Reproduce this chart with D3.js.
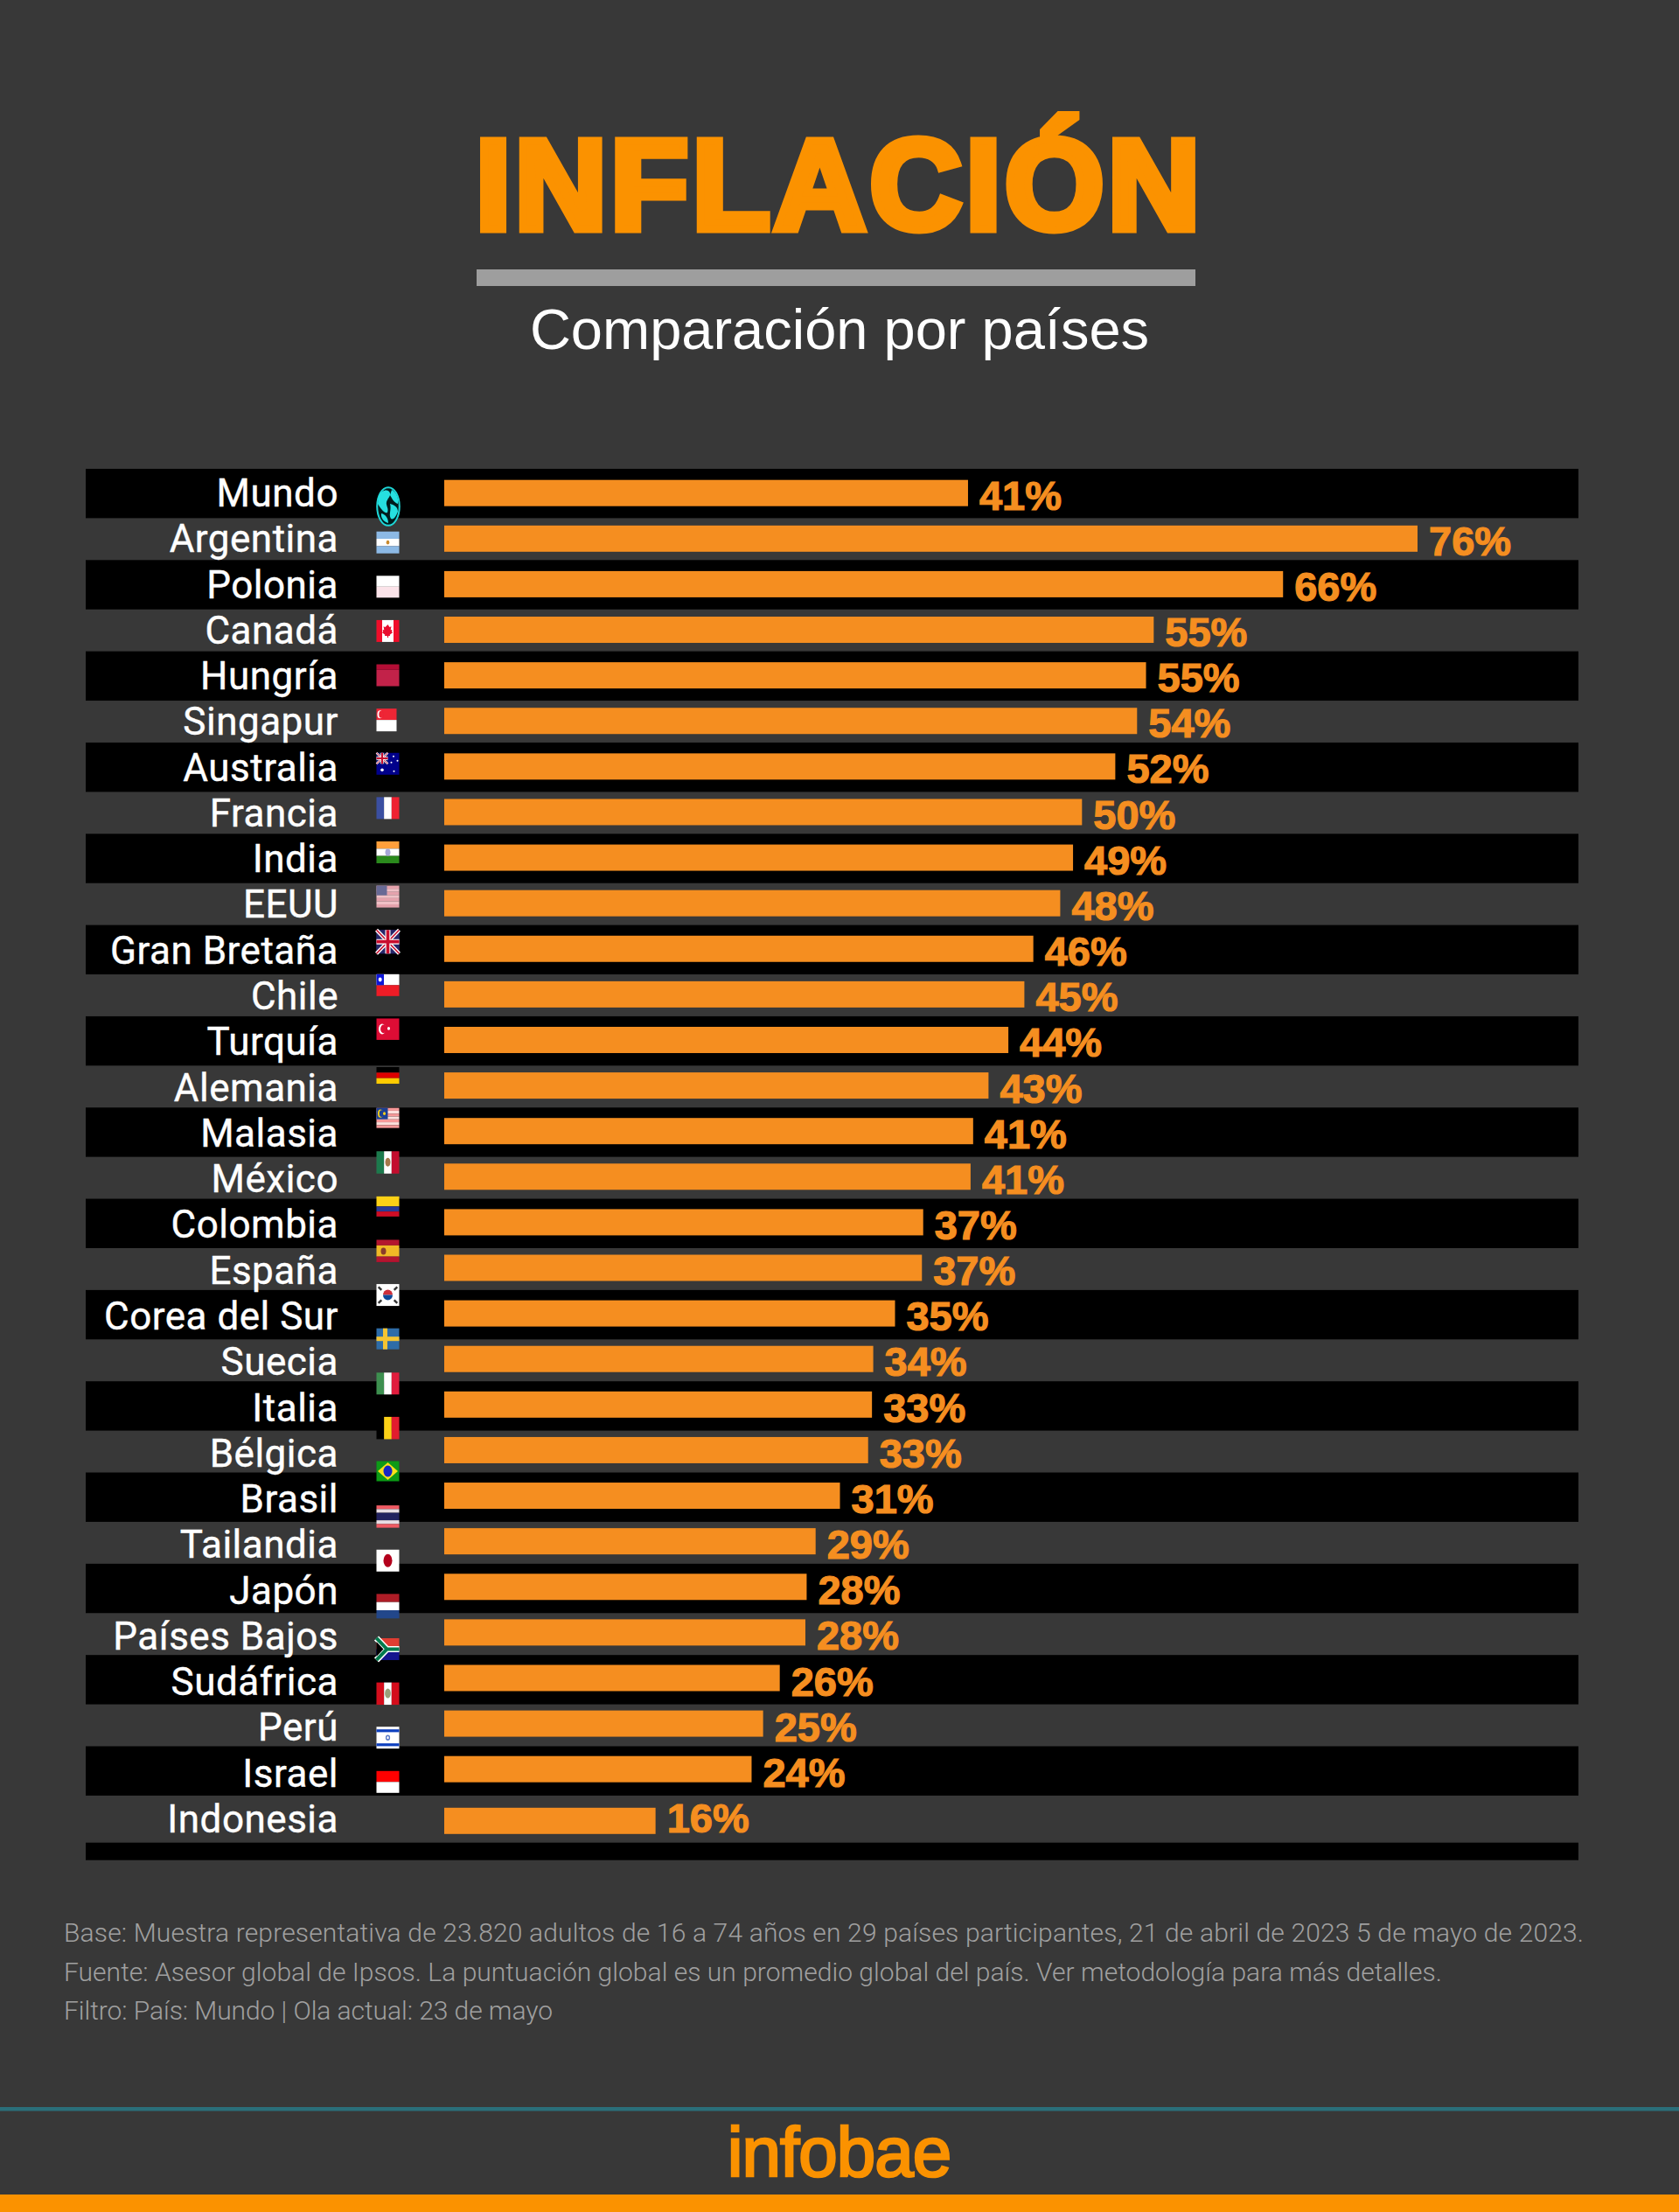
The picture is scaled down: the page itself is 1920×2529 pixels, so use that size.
<!DOCTYPE html>
<html lang="es">
<head>
<meta charset="utf-8">
<script src="https://d3js.org/d3.v7.min.js"></script>
<style>
html,body{margin:0;padding:0;background:#383838}
svg{display:block}
</style>
</head>
<body>
<svg id="chart" width="1920" height="2529"></svg>
<script>
const countries=["Mundo","Argentina","Polonia","Canadá","Hungría","Singapur","Australia","Francia","India","EEUU","Gran Bretaña","Chile","Turquía","Alemania","Malasia","México","Colombia","España","Corea del Sur","Suecia","Italia","Bélgica","Brasil","Tailandia","Japón","Países Bajos","Sudáfrica","Perú","Israel","Indonesia"];
const values=[40.9,76,65.5,55.4,54.8,54.1,52.4,49.8,49.1,48.1,46,45.3,44.05,42.5,41.3,41.1,37.4,37.3,35.2,33.5,33.4,33.1,30.9,29,28.3,28.2,26.2,24.9,24,16.5];
const valueLabels=["41%","76%","66%","55%","55%","54%","52%","50%","49%","48%","46%","45%","44%","43%","41%","41%","37%","37%","35%","34%","33%","33%","31%","29%","28%","28%","26%","25%","24%","16%"];
const titleText="INFLACIÓN";
const subtitleText="Comparación por países";
const notes=["Base: Muestra representativa de 23.820 adultos de 16 a 74 años en 29 países participantes, 21 de abril de 2023 5 de mayo de 2023.","Fuente: Asesor global de Ipsos. La puntuación global es un promedio global del país. Ver metodología para más detalles.","Filtro: País: Mundo | Ola actual: 23 de mayo"];
const logoText="infobae";

const svg=d3.select("#chart");
const ORANGE="#fb9200", BAR="#f58e20";
const FONT_LABEL="Roboto, sans-serif";
const n=countries.length;

svg.append("rect").attr("width",1920).attr("height",2529).attr("fill","#383838");

/* header */
svg.append("text").attr("x",960).attr("y",262).attr("text-anchor","middle")
  .attr("font-family","'Liberation Sans'").attr("font-weight",700).attr("font-size",146)
  .attr("letter-spacing",4.2).attr("fill",ORANGE).attr("stroke",ORANGE).attr("stroke-width",9)
  .attr("stroke-linejoin","miter").attr("stroke-miterlimit",2).text(titleText);
svg.append("rect").attr("x",545).attr("y",308).attr("width",822).attr("height",19).attr("fill","#9e9e9e");
svg.append("text").attr("x",960).attr("y",399).attr("text-anchor","middle")
  .attr("font-family","'Liberation Sans'").attr("font-size",65).attr("fill","#fff").text(subtitleText);

/* zebra */
const stripeIdx=d3.range(0,n,2);
const stripeY=d3.scaleLinear().domain([0,28]).range([536,1996.5]);
svg.append("g").selectAll("rect").data(stripeIdx).join("rect")
  .attr("x",98).attr("width",1707)
  .attr("y",d=>stripeY(d)).attr("height",56.4).attr("fill","#000");
svg.append("rect").attr("x",98).attr("width",1707).attr("y",2106.7).attr("height",20).attr("fill","#000");

/* scales */
const x=d3.scaleLinear().domain([0,76]).range([508,1621]);
const barC=d3.scaleLinear().domain([0,28]).range([563.7,2022.7]);
const barCenter=i=>barC(i)+(i===29?7:0);
const labelY=d3.scaleLinear().domain([0,29]).range([579,2095]);
const valueY=d3.scaleLinear().domain([0,29]).range([582.5,2095]);
const flagTop=d3.scaleLinear().domain([1,29]).range([607.7,2024.8]);

const rows=countries.map((c,i)=>({c,i,v:values[i],l:valueLabels[i]}));
svg.append("g").selectAll("rect").data(rows).join("rect")
  .attr("x",x(0)).attr("width",d=>x(d.v)-x(0))
  .attr("y",d=>barCenter(d.i)-15).attr("height",30).attr("fill",BAR);
svg.append("g").selectAll("text").data(rows).join("text")
  .attr("x",387).attr("y",d=>labelY(d.i)).attr("text-anchor","end")
  .attr("font-family",FONT_LABEL).attr("font-size",44).attr("letter-spacing",0.5)
  .attr("fill","#fff").attr("stroke","#fff").attr("stroke-width",0.4).text(d=>d.c);
svg.append("g").selectAll("text").data(rows).join("text")
  .attr("x",d=>x(d.v)+13).attr("y",d=>valueY(d.i))
  .attr("font-family","'Liberation Sans'").attr("font-weight",700).attr("font-size",47)
  .attr("fill",BAR).attr("stroke",BAR).attr("stroke-width",1.2).text(d=>d.l);

/* flags */
const defs=svg.append("defs");
defs.append("filter").attr("id","soft").attr("x","-10%").attr("y","-10%").attr("width","120%").attr("height","120%")
  .append("feGaussianBlur").attr("stdDeviation",0.45);
const W=26,H=25;
const R=(g,a,b,w,h,f)=>g.append("rect").attr("x",a).attr("y",b).attr("width",w).attr("height",h).attr("fill",f);
const E=(g,a,b,rx,ry,f)=>g.append("ellipse").attr("cx",a).attr("cy",b).attr("rx",rx).attr("ry",ry).attr("fill",f);
const P=(g,d,f)=>g.append("path").attr("d",d).attr("fill",f);
const L=(g,d,s,w)=>g.append("path").attr("d",d).attr("fill","none").attr("stroke",s).attr("stroke-width",w);
const unionJack=(g,w,h,sw)=>{
  R(g,0,0,w,h,"#27266b");
  L(g,`M0 0L${w} ${h}M${w} 0L0 ${h}`,"#fff",sw*0.9);
  L(g,`M0 0L${w} ${h}M${w} 0L0 ${h}`,"#c8102e",sw*0.35);
  L(g,`M${w/2} 0V${h}M0 ${h/2}H${w}`,"#fff",sw*1.3);
  L(g,`M${w/2} 0V${h}M0 ${h/2}H${w}`,"#c8102e",sw*0.8);
};
const flagSpecs={
  "Argentina":{s:"h",c:["#8cb9e5","#fff","#8cb9e5"],x:g=>E(g,13,12.5,1.8,2.4,"#c98a2e")},
  "Polonia":{s:"h",c:["#fff","#fbe3e9"]},
  "Canadá":{s:"v",c:["#f0102a","#fff","#f0102a"],wt:[1,2,1],x:g=>{P(g,"M13 5l2 3 2-.6-.8 4 1.8-.4-.6 2.4 1.4.8-3.6 2.6.4 1.4H13.6v2h-1.2v-2H9.4l.4-1.4-3.6-2.6 1.4-.8-.6-2.4 1.8.4-.8-4 2 .6z","#e8112d")}},
  "Hungría":{s:"h",c:["#b30f36","#c2214a"],wt:[1,3]},
  "Singapur":{w:23,h:26,s:"h",c:["#ee2536","#fff"],x:g=>{E(g,4,6.5,3,4.5,"#fff");E(g,5.4,6.5,2.6,4,"#ee2536")}},
  "Australia":{s:"h",c:["#00008b"],x:g=>{unionJack(g,13,12.5,2.6);[[6.5,19.5,1.8],[19.5,4,1],[24,9,1],[17,11,1],[20,21,1]].forEach(a=>E(g,a[0],a[1],a[2],a[2],"#fff"))}},
  "Francia":{s:"v",c:["#3a4fa1","#fff","#ee2033"]},
  "India":{s:"h",c:["#ff9f3a","#fff","#2c8a1f"],x:g=>E(g,13,12.5,3,4,"#a7a7d8")},
  "EEUU":{s:"h",c:["#e5a3ad","#f0c0c6","#e5a3ad","#f0c0c6","#e5a3ad","#f0c0c6","#e5a3ad"],x:g=>R(g,0,0,12,11,"#686b95")},
  "Gran Bretaña":{h:27,s:"h",c:["#27266b"],x:g=>unionJack(g,W,27,4.6)},
  "Chile":{s:"h",c:["#fff","#ee1c25"],x:g=>{R(g,0,0,8.5,12.5,"#0a14d8");E(g,4.2,6.2,2,2.4,"#fff")}},
  "Turquía":{h:24.5,s:"h",c:["#dd0a35"],x:g=>{E(g,6.5,12,4,6,"#fff");E(g,8,12,3.4,4.8,"#dd0a35");E(g,14,11.5,1.6,1.8,"#fff")}},
  "Alemania":{dy:5,h:19,s:"h",c:["#000","#dd0000","#ffcc00"]},
  "Malasia":{dy:1,h:23,s:"h",c:["#f79a9a","#fde0dc","#f79a9a","#fde0dc","#f79a9a","#fde0dc","#f79a9a"],x:g=>{R(g,0,0,13,13,"#1c3f94");E(g,4.5,6.5,3,4.6,"#f7d117");E(g,5.8,6.5,2.5,3.8,"#1c3f94");E(g,9,6.5,1.5,1.8,"#f7d117")}},
  "México":{h:25.5,s:"v",c:["#1f7a4d","#fff","#c3102f"],x:g=>E(g,13,12.5,3,5,"#a5784b")},
  "Colombia":{dy:1,h:23,s:"h",c:["#fcd116","#2b3a96","#ce1126"],wt:[2,1,1]},
  "España":{h:25.5,s:"h",c:["#b3122f","#f0b928","#b3122f"],wt:[1,2,1],x:g=>E(g,8,13,3,4,"#8a3a2a")},
  "Corea del Sur":{s:"h",c:["#fff"],x:g=>{P(g,"M7.5 12.5a5.5 6 0 0 1 11 0z","#cd2e3a");P(g,"M7.5 12.5a5.5 6 0 0 0 11 0z","#0f4a9a");
     [[4,5,45],[22,5,-45],[4,20,-45],[22,20,45]].forEach(a=>R(g,a[0]-2.5,a[1]-1.2,5,2.4,"#333").attr("transform",`rotate(${a[2]} ${a[0]} ${a[1]})`))}},
  "Suecia":{h:24,s:"h",c:["#2f6ca8"],x:g=>{R(g,7.5,0,5,24,"#f4c430");R(g,0,9.5,W,5,"#f4c430")}},
  "Italia":{s:"v",c:["#3d8f4f","#fff","#e01b3c"]},
  "Bélgica":{h:25.5,s:"v",c:["#000","#fcd116","#e21b2f"]},
  "Brasil":{h:23,s:"h",c:["#0a9a16"],x:g=>{P(g,"M13 1.5L24.5 11.5 13 21.5 1.5 11.5z","#f7e01a");E(g,13,11.5,5,6.5,"#1226c4")}},
  "Tailandia":{h:25.5,s:"h",c:["#ef5a63","#e8dde4","#24245e","#e8dde4","#ef5a63"],wt:[1,1,2,1,1]},
  "Japón":{s:"h",c:["#fff"],x:g=>E(g,13,12.5,5,7.5,"#b3001f")},
  "Países Bajos":{h:28,s:"h",c:["#ae1c28","#fff","#21468b"]},
  "Sudáfrica":{s:"h",c:["#e03c31","#18188f"],x:g=>{L(g,"M0 0L12 12.5L0 25M12 12.5H26","#fff",7);L(g,"M0 0L12 12.5L0 25M12 12.5H26","#007a4d",4);P(g,"M0 4L8 12.5L0 21z","#000")}},
  "Perú":{h:25.5,s:"v",c:["#d4101f","#fff","#d4101f"],x:g=>E(g,13,12.5,3.4,5.5,"#9aa07a")},
  "Israel":{s:"h",c:["#fff"],x:g=>{R(g,0,3,W,3.2,"#0f3fbf");R(g,0,19,W,3.2,"#0f3fbf");E(g,13,12.5,2.6,3.2,"#5a7ac8");E(g,13,12.5,1.2,1.6,"#fff")}},
  "Indonesia":{s:"h",c:["#ff0000","#fff"]}
};
const flagLayer=svg.append("g").attr("filter","url(#soft)");
rows.slice(1).forEach(d=>{
  const sp=flagSpecs[d.c], w=sp.w||W, h=sp.h||H;
  const g=flagLayer.append("g").attr("transform",`translate(430.5,${flagTop(d.i)+(sp.dy||0)})`);
  const wt=sp.wt||sp.c.map(()=>1), tot=d3.sum(wt);
  let pos=0;
  sp.c.forEach((col,j)=>{
    const f=wt[j]/tot;
    if(sp.s==="h") R(g,0,pos*h,w,f*h,col); else R(g,pos*w,0,f*w,h,col);
    pos+=f;
  });
  if(sp.x) sp.x(g);
});
/* globe */
const globe=flagLayer.append("g").attr("transform","translate(444,579)");
globe.append("ellipse").attr("rx",12.8).attr("ry",21.8).attr("fill","#021a1c").attr("stroke","#1fd6d6").attr("stroke-width",2);
P(globe,"M-11 -12C-7 -20 1 -20 2 -15C3 -12 -1 -9 -2 -5C-3 -1 1 2 -1 7C-4 9 -9 2 -12 -3z","#25e0e0");
P(globe,"M4 -19C9 -16 12 -10 11 -3C7 -4 4 -9 2 -13z","#25e0e0");
P(globe,"M2 -3C6 -2 11 0 11 6C9 11 6 16 3 14C0 9 4 4 2 -3z","#25e0e0");
P(globe,"M-8 8C-3 9 0 14 0 19C-4 18 -9 14 -8 8z","#25e0e0");

/* notes */
const noteWidths=[1738,1576,559];
svg.append("g").selectAll("text").data(notes).join("text")
  .attr("x",73).attr("y",(d,i)=>[2220,2264.5,2309][i])
  .attr("font-family","Roboto, sans-serif").attr("font-weight",300).attr("font-size",30)
  .attr("textLength",(d,i)=>noteWidths[i]).attr("lengthAdjust","spacing")
  .attr("fill","#a0a0a0").text(d=>d);

/* footer */
svg.append("rect").attr("x",0).attr("y",2409).attr("width",1920).attr("height",4.5).attr("fill","#2a6f7a");
svg.append("text").attr("x",959.5).attr("y",2488).attr("text-anchor","middle")
  .attr("font-family","'Liberation Sans'").attr("font-size",80).attr("letter-spacing",-1)
  .attr("fill",ORANGE).attr("stroke",ORANGE).attr("stroke-width",2.6).text(logoText);
svg.append("rect").attr("x",0).attr("y",2509).attr("width",1920).attr("height",20).attr("fill",ORANGE);
</script>
</body>
</html>
